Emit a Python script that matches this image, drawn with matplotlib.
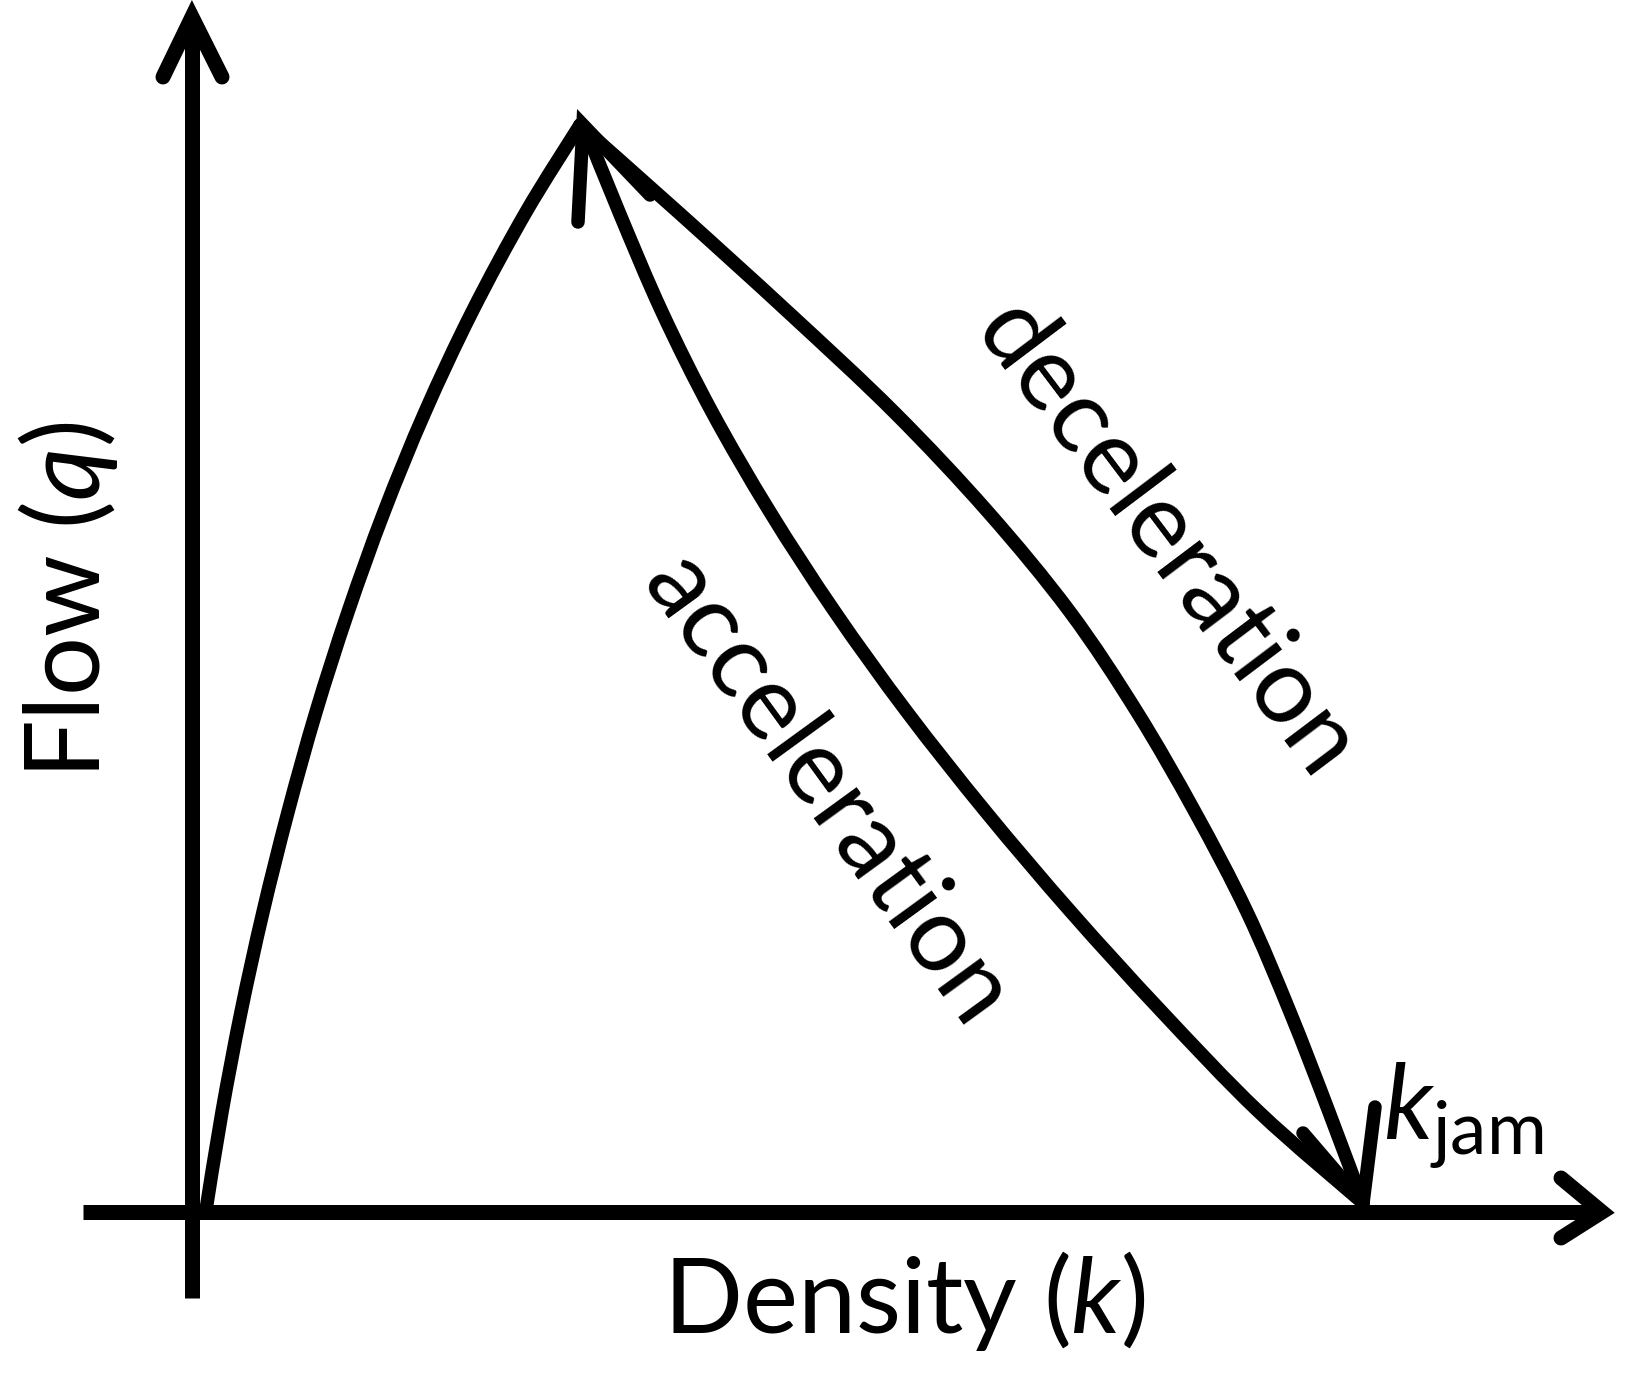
import matplotlib
matplotlib.use("Agg")
import matplotlib.pyplot as plt
from matplotlib.path import Path
from matplotlib.patches import PathPatch

plt.rcParams['font.family'] = ['Lato', 'DejaVu Sans']
plt.rcParams['mathtext.fontset'] = 'custom'
plt.rcParams['mathtext.rm'] = 'Lato'
plt.rcParams['mathtext.it'] = 'Lato:italic'

# ---- data (k = density units, q = flow units) ----
# free-flow branch: origin -> capacity
free_q = [2, 100, 200, 300, 400, 500, 600, 700, 800, 900, 1000, 1087]
free_k = [14, 30, 49, 71, 96, 124, 156, 192, 233, 280, 334, 388]

# deceleration branch: capacity -> jam density (upper/right curve)
dec_q = [1087, 1000, 900, 800, 700, 600, 500, 400, 300, 200, 100, 9]
dec_k = [388, 486, 596, 702, 796, 878, 945, 1003, 1055, 1098, 1137, 1171]

# acceleration branch: jam density -> capacity (lower/left curve)
acc_q = [9, 100, 200, 300, 400, 500, 600, 700, 800, 900, 1000, 1084]
acc_k = [1171, 1067, 970, 879, 794, 715, 643, 578, 520, 470, 427, 393]

# arrow heads (wing, tip, wing)
peak_head_k = [386, 391, 458]
peak_head_q = [990, 1087, 1017]
jam_head_k = [1111, 1171, 1183]
jam_head_q = [79, 9, 105]

# axes lines and their arrow heads
yaxis_k = [0, 0]
yaxis_q = [-86, 1195]
yhead_k = [-29, 0, 30]
yhead_q = [1135, 1195, 1135]
xaxis_k = [-109, 1410]
xaxis_q = [0, 0]
xhead_k = [1369, 1410, 1369]
xhead_q = [34, 0, -26]

x_label = "Density ($k$)"
y_label = "Flow ($q$)"
dec_label = "deceleration"
acc_label = "acceleration"
jam_label = r"$k_{\mathrm{jam}}$"


def smooth_path(xs, ys):
    """Cubic Bezier path passing through the given points (Catmull-Rom tangents)."""
    pts = list(zip(xs, ys))
    n = len(pts)
    verts = [pts[0]]
    codes = [Path.MOVETO]
    for i in range(n - 1):
        p0 = pts[max(i - 1, 0)]
        p1 = pts[i]
        p2 = pts[i + 1]
        p3 = pts[min(i + 2, n - 1)]
        c1 = (p1[0] + (p2[0] - p0[0]) / 6.0, p1[1] + (p2[1] - p0[1]) / 6.0)
        c2 = (p2[0] - (p3[0] - p1[0]) / 6.0, p2[1] - (p3[1] - p1[1]) / 6.0)
        verts += [c1, c2, p2]
        codes += [Path.CURVE4] * 3
    return Path(verts, codes)


# ---- figure ----
W, H, DPI = 1626, 1375, 100
fig = plt.figure(figsize=(W / DPI, H / DPI), dpi=DPI)
ax = fig.add_axes([0, 0, 1, 1])
ax.set_xlim(-192, W - 192)
ax.set_ylim(1212 - H, 1212)
ax.axis('off')

axis_lw = 15 * 72 / DPI
curve_lw = 13.5 * 72 / DPI

ax.plot(yaxis_k, yaxis_q, color='black', lw=axis_lw, solid_capstyle='butt')
ax.plot(xaxis_k, xaxis_q, color='black', lw=axis_lw, solid_capstyle='butt')
ax.plot(yhead_k, yhead_q, color='black', lw=axis_lw, solid_capstyle='round', solid_joinstyle='miter')
ax.plot(xhead_k, xhead_q, color='black', lw=axis_lw, solid_capstyle='round', solid_joinstyle='miter')

for kk, qq in [(free_k, free_q), (dec_k, dec_q), (acc_k, acc_q)]:
    ax.add_patch(PathPatch(smooth_path(kk, qq), facecolor='none', edgecolor='black',
                           lw=curve_lw, capstyle='round', joinstyle='round'))

ax.plot(peak_head_k, peak_head_q, color='black', lw=curve_lw, solid_capstyle='round', solid_joinstyle='miter')
ax.plot(jam_head_k, jam_head_q, color='black', lw=curve_lw, solid_capstyle='round', solid_joinstyle='miter')

fs = 75
ax.text(712, -121, x_label, fontsize=fs, ha='center', va='baseline')
ax.text(-92, 612, y_label, fontsize=fs, ha='center', va='baseline', rotation=90, rotation_mode='anchor')
ax.text(974, 672, dec_label, fontsize=fs, ha='center', va='center', rotation=-53, rotation_mode='anchor')
ax.text(635, 421, acc_label, fontsize=fs, ha='center', va='center', rotation=-54, rotation_mode='anchor')
ax.text(1191, 72, jam_label, fontsize=fs, ha='left', va='baseline')

fig.savefig("out.png", dpi=DPI, facecolor='white')
